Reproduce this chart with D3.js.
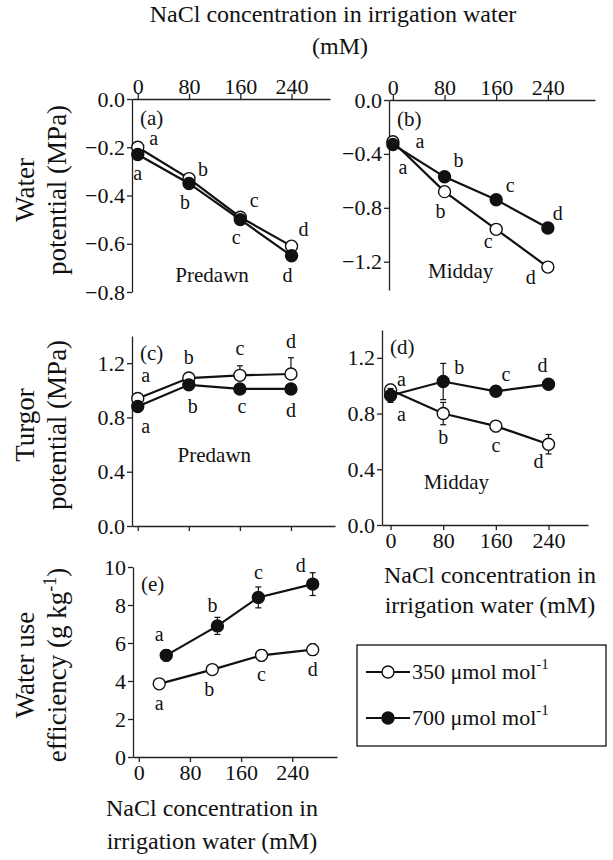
<!DOCTYPE html>
<html>
<head>
<script src="https://d3js.org/d3.v7.min.js"></script>
<style>
  body { margin: 0; background: #fff; }
  svg text { font-family: "Times New Roman", "Liberation Serif", "DejaVu Serif", serif !important; fill: #111; }
</style>
</head>
<body>
<svg id="chart" width="613" height="860" font-family="Liberation Serif, DejaVu Serif, serif"></svg>
<script>
// NaCl treatments (mM)
const nacl = [0, 80, 160, 240];
const letters = ['a', 'b', 'c', 'd'];
// (a) predawn water potential
const wpPreOpen = [-0.20, -0.33, -0.49, -0.61];
const wpPreFill = [-0.23, -0.35, -0.50, -0.65];
// (b) midday water potential
const wpMidOpen = [-0.31, -0.68, -0.96, -1.24];
const wpMidFill = [-0.33, -0.57, -0.74, -0.95];
// (c) predawn turgor
const tpPreOpen = [0.94, 1.09, 1.11, 1.12];
const tpPreOpenErr = [0.02, 0.02, 0.07, 0.12];
const tpPreFill = [0.88, 1.04, 1.01, 1.01];
// (d) midday turgor
const tpMidOpen = [0.97, 0.80, 0.71, 0.58];
const tpMidOpenErr = [0.04, 0.08, 0.04, 0.07];
const tpMidFill = [0.93, 1.03, 0.96, 1.01];
const tpMidFillErr = [0.05, 0.13, 0.02, 0.02];
// (e) water use efficiency (points drawn slightly offset on x)
const wueOpenX = [32, 115, 192, 272];
const wueOpen = [3.85, 4.6, 5.35, 5.65];
const wueOpenErr = [0.15, 0.15, 0.3, 0.3];
const wueFillX = [43, 123, 187, 272];
const wueFill = [5.35, 6.9, 8.4, 9.1];
const wueFillErr = [0.3, 0.45, 0.55, 0.6];

const svg = d3.select('#chart');
const R = 6;

function panel(o) {
  const x = d3.scaleLinear().domain(o.xd).range(o.xr);
  const y = d3.scaleLinear().domain(o.yd).range(o.yr);
  const g = svg.append('g');
  const xAxis = o.top ? d3.axisTop(x) : d3.axisBottom(x);
  xAxis.tickValues(nacl).tickSize(5).tickPadding(2).tickSizeOuter(0);
  if (!o.xLabels) xAxis.tickFormat('');
  const gx = g.append('g')
    .attr('transform', `translate(0,${o.top ? d3.min(o.yr) : d3.max(o.yr)})`)
    .call(xAxis);
  const gy = g.append('g').attr('transform', `translate(${o.xr[0]},0)`)
    .call(d3.axisLeft(y).tickValues(o.yt).tickFormat(o.yf).tickSize(5).tickPadding(2).tickSizeOuter(0));
  [gx, gy].forEach(a => {
    a.attr('font-family', null);
    a.selectAll('path,line').attr('stroke', '#222').attr('stroke-width', 1.3);
    a.selectAll('text').attr('font-size', 22).attr('fill', '#111');
  });
  if (o.top) gx.selectAll('text').attr('dy', '0.1em');
  g.append('text').attr('x', o.xr[0] + 8).attr('y', d3.min(o.yr) + (o.top ? 26 : 24))
    .attr('font-size', 21).text(o.tag);
  if (o.note) g.append('text').attr('x', x(o.note[0])).attr('y', y(o.note[1]))
    .attr('text-anchor', 'middle').attr('font-size', 21).text(o.note[2]);

  o.series.forEach(s => {
    const xs = s.x || nacl;
    const pts = s.v.map((v, i) => ({ x: xs[i], v, e: s.e ? s.e[i] : 0 }));
    g.append('path').datum(pts)
      .attr('d', d3.line().x(d => x(d.x)).y(d => y(d.v)))
      .attr('fill', 'none').attr('stroke', '#111').attr('stroke-width', 2.2);
    pts.forEach((d, i) => {
      if (d.e > 0) {
        const y1 = s.errBoth ? y(d.v - d.e) : y(d.v);
        const y2 = y(d.v + d.e);
        g.append('line').attr('x1', x(d.x)).attr('x2', x(d.x)).attr('y1', y1).attr('y2', y2)
          .attr('stroke', '#111').attr('stroke-width', 1.2);
        [y1, y2].forEach((yy, k) => { if (s.errBoth || k === 1)
          g.append('line').attr('x1', x(d.x) - 3).attr('x2', x(d.x) + 3).attr('y1', yy).attr('y2', yy)
            .attr('stroke', '#111').attr('stroke-width', 1.2); });
      }
      g.append('circle').attr('cx', x(d.x)).attr('cy', y(d.v)).attr('r', R)
        .attr('fill', s.open ? '#fff' : '#111').attr('stroke', '#111').attr('stroke-width', 1.4);
      const off = s.lab[i];
      g.append('text').attr('x', x(d.x) + off[0]).attr('y', y(d.v) + off[1])
        .attr('text-anchor', 'middle').attr('font-size', 20).text(letters[i]);
    });
  });
}

panel({ tag: '(a)', top: true, xLabels: true, xd: [-9, 300], xr: [132, 330], yd: [0, -0.8], yr: [99, 292],
  yt: [0, -0.2, -0.4, -0.6, -0.8], yf: d3.format('.1f'), note: [116, -0.76, 'Predawn'],
  series: [
    { open: true, v: wpPreOpen, lab: [[16, -2], [14, -3], [14, -10], [12, -10]] },
    { open: false, v: wpPreFill, lab: [[0, 26], [-4, 26], [-4, 24], [-4, 26]] }
  ] });
panel({ tag: '(b)', top: true, xLabels: true, xd: [-6, 313], xr: [389, 595], yd: [0, -1.41], yr: [100, 290],
  yt: [0, -0.4, -0.8, -1.2], yf: d3.format('.1f'), note: [105, -1.32, 'Midday'],
  series: [
    { open: true, v: wpMidOpen, lab: [[27, 6], [-4, 26], [-8, 19], [-17, 17]] },
    { open: false, v: wpMidFill, lab: [[10, 30], [14, -10], [14, -8], [10, -8]] }
  ] });
panel({ tag: '(c)', top: false, xLabels: false, xd: [-9, 309], xr: [132, 335], yd: [0, 1.4], yr: [526, 336],
  yt: [0, 0.4, 0.8, 1.2], yf: d3.format('.1f'), note: [120, 0.47, 'Predawn'],
  series: [
    { open: true, v: tpPreOpen, e: tpPreOpenErr, lab: [[8, -16], [0, -14], [0, -20], [0, -26]] },
    { open: false, v: tpPreFill, lab: [[8, 26], [4, 28], [2, 24], [0, 28]] }
  ] });
panel({ tag: '(d)', top: false, xLabels: true, xd: [-13, 300], xr: [382, 588], yd: [0, 1.4], yr: [525, 330],
  yt: [0, 0.4, 0.8, 1.2], yf: d3.format('.1f'), note: [100, 0.26, 'Midday'],
  series: [
    { open: true, v: tpMidOpen, e: tpMidOpenErr, errBoth: true, lab: [[11, -4], [0, 30], [0, 26], [-10, 24]] },
    { open: false, v: tpMidFill, e: tpMidFillErr, errBoth: true, lab: [[11, 26], [16, -8], [10, -10], [-6, -12]] }
  ] });
panel({ tag: '(e)', top: false, xLabels: true, xd: [-9, 310], xr: [133, 337], yd: [0, 10], yr: [757, 567],
  yt: [0, 2, 4, 6, 8, 10], yf: d3.format('d'),
  series: [
    { open: true, x: wueOpenX, v: wueOpen, e: wueOpenErr, errBoth: true, lab: [[0, 26], [-3, 26], [0, 26], [0, 26]] },
    { open: false, x: wueFillX, v: wueFill, e: wueFillErr, errBoth: true, lab: [[-7, -14], [-5, -14], [0, -18], [-12, -12]] }
  ] });

// titles
function txt(x, y, s, rot, size) {
  return svg.append('text').attr('font-size', size || 24).attr('text-anchor', 'middle')
    .attr('transform', `translate(${x},${y})` + (rot ? ' rotate(-90)' : '')).text(s);
}
txt(333, 22, 'NaCl concentration in irrigation water');
txt(340, 54, '(mM)');
txt(34, 190, 'Water', true, 27);
txt(66, 190, 'potential (MPa)', true, 27);
txt(34, 425, 'Turgor', true, 27);
txt(66, 425, 'potential (MPa)', true, 27);
txt(34, 665, 'Water use', true, 27);
const eff = txt(66, 665, 'efficiency (g kg', true, 27);
eff.append('tspan').attr('font-size', 18).attr('dy', -10).text('-1');
eff.append('tspan').attr('dy', 10).text(')');
txt(212, 816, 'NaCl concentration in');
txt(212, 849, 'irrigation water (mM)');
txt(490, 583, 'NaCl concentration in');
txt(490, 613, 'irrigation water (mM)');

// legend
svg.append('rect').attr('x', 357).attr('y', 645).attr('width', 249).attr('height', 101)
  .attr('fill', 'none').attr('stroke', '#111').attr('stroke-width', 1.3);
[{ open: true, t: '350 μmol mol', y: 672 }, { open: false, t: '700 μmol mol', y: 718 }].forEach(d => {
  svg.append('line').attr('x1', 366).attr('x2', 410).attr('y1', d.y).attr('y2', d.y)
    .attr('stroke', '#111').attr('stroke-width', 2.2);
  svg.append('circle').attr('cx', 388).attr('cy', d.y).attr('r', R)
    .attr('fill', d.open ? '#fff' : '#111').attr('stroke', '#111').attr('stroke-width', 1.4);
  const t = svg.append('text').attr('x', 412).attr('y', d.y + 7).attr('font-size', 22).text(d.t);
  t.append('tspan').attr('font-size', 15).attr('dy', -10).text('-1');
});
</script>
</body>
</html>
